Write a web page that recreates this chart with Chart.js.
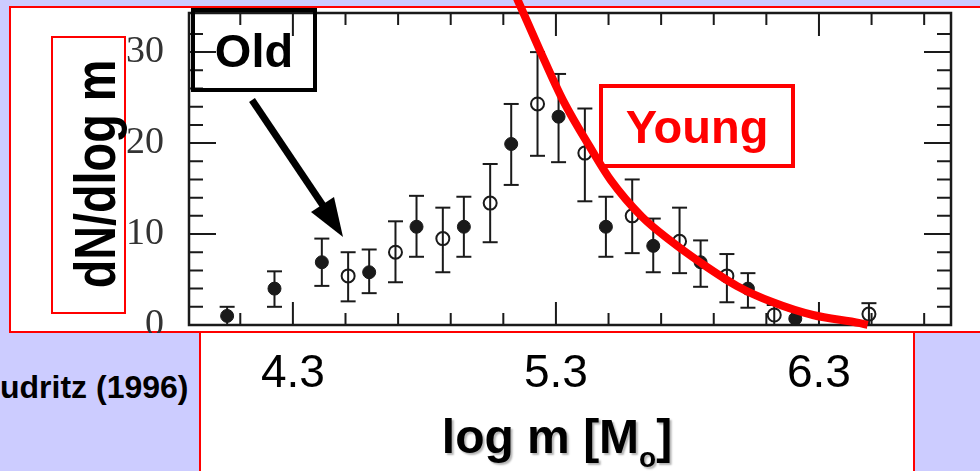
<!DOCTYPE html>
<html>
<head>
<meta charset="utf-8">
<script src="https://cdn.jsdelivr.net/npm/chart.js@4.4.1/dist/chart.umd.min.js"></script>
<style>
  html, body { margin: 0; padding: 0; }
  body {
    width: 980px; height: 471px; overflow: hidden; position: relative;
    background: #ccccff; font-family: "Liberation Sans", Arial, sans-serif;
  }
  .abs { position: absolute; box-sizing: border-box; }
  #topBox { left: 9px; top: 6px; width: 1000px; height: 327px; background: #fff; border: 2px solid #ff0000; z-index: 0; }
  #bottomBox { left: 199px; top: 331px; width: 716px; height: 160px; background: #fff; border: 2px solid #ff0000; z-index: 0; }
  #chart { position: absolute; left: 0; top: 0; z-index: 1; }
  #leftCover { left: 0; top: 333px; width: 199px; height: 138px; background: #ccccff; z-index: 2; }
  #cite { left: 0; top: 371px; width: 186px; text-align: right; font-weight: bold; font-size: 32px; line-height: 1; white-space: nowrap; z-index: 3; }
  #yBox { left: 51px; top: 36px; width: 75px; height: 278px; background: #fff; border: 2px solid #ff0000; z-index: 2; }
  #yTitle { left: 95px; top: 174px; font-weight: bold; font-size: 57px; line-height: 1; white-space: nowrap;
            transform: translate(-50%, -50%) rotate(-90deg) scaleX(0.82); z-index: 3; }
  #oldBox { left: 191px; top: 8px; width: 126px; height: 84px; border: 4px solid #000; z-index: 3;
            display: flex; align-items: center; justify-content: center; font-weight: bold; font-size: 47px; line-height: 1; }
  #youngBox { left: 599px; top: 84px; width: 196px; height: 84px; border: 4px solid #ff0000; z-index: 3; color: #ff0000;
              display: flex; align-items: center; justify-content: center; font-weight: bold; font-size: 47px; line-height: 1; }
  #xTitle { left: 557px; top: 413px; transform: translateX(-50%); font-weight: bold; font-size: 48px; line-height: 1;
            white-space: nowrap; z-index: 3; text-shadow: 2px 2px 2px rgba(0,0,0,0.3); }
  #xTitle span { font-size: 28px; position: relative; top: 14px; }
  #arrow { left: 0; top: 0; z-index: 3; }
</style>
</head>
<body>
<div id="topBox" class="abs"></div>
<div id="bottomBox" class="abs"></div>
<canvas id="chart" width="980" height="471"></canvas>
<div id="leftCover" class="abs"></div>
<div id="cite" class="abs">udritz (1996)</div>
<div id="yBox" class="abs"></div>
<div id="yTitle" class="abs">dN/dlog m</div>
<div id="oldBox" class="abs">Old</div>
<div id="youngBox" class="abs">Young</div>
<svg id="arrow" class="abs" width="980" height="471">
  <line x1="252" y1="100" x2="328" y2="213" stroke="#000" stroke-width="7"/>
  <polygon points="343,237 311,212 334,197" fill="#000"/>
</svg>
<div id="xTitle" class="abs">log m [M<span>o</span>]</div>

<script>
// filled circles (one sample)
const filledX  = [4.05, 4.23, 4.41, 4.59, 4.77, 4.95, 5.13, 5.31, 5.49, 5.67, 5.85, 6.03, 6.21];
const filledY  = [1.0, 4.0, 6.9, 5.8, 10.8, 10.8, 19.9, 22.9, 10.8, 8.7, 6.9, 4.0, 0.7];
const filledLo = [0, 2.0, 4.3, 3.5, 7.5, 7.5, 15.4, 17.9, 7.5, 5.8, 4.2, 1.9, 0];
const filledHi = [2.0, 5.9, 9.5, 8.3, 14.2, 14.1, 24.3, 27.6, 14.1, 11.7, 9.3, 5.7, 1.6];

// open circles (other sample)
const openX  = [4.51, 4.69, 4.87, 5.05, 5.23, 5.41, 5.59, 5.77, 5.95, 6.13, 6.49];
const openY  = [5.4, 8.0, 9.5, 13.4, 24.3, 18.9, 12.0, 9.2, 5.4, 1.1, 1.2];
const openLo = [2.6, 4.7, 5.8, 9.1, 18.6, 13.6, 7.9, 5.7, 2.5, 0, 0];
const openHi = [8.0, 11.4, 12.9, 17.7, 30.0, 23.8, 16.0, 12.9, 7.8, 2.2, 2.4];

// red "Young" curve
const curveX = [5.121, 5.155, 5.239, 5.327, 5.437, 5.509, 5.627, 5.734, 5.848, 5.988, 6.125, 6.277, 6.456, 6.485];
const curveY = [37.9, 35.7, 30.2, 24.7, 19.2, 15.9, 11.9, 9.3, 6.9, 4.3, 2.5, 1.1, 0.2, 0];

// axes
const xLabels = [4.3, 5.3, 6.3];
const xTicks = [4.1, 4.3, 4.5, 4.7, 4.9, 5.1, 5.3, 5.5, 5.7, 5.9, 6.1, 6.3, 6.5, 6.7];
const yLabels = [0, 10, 20, 30];
const yTicks = [2, 4, 6, 8, 10, 12, 14, 16, 18, 20, 22, 24, 26, 28, 30, 32];

const INK = "#1a1a1a";

function pts(xs, ys) {
    return xs.map((x, i) => ({ x: x, y: ys[i] }));
}

// vertical error bar stems, separated by gaps
const allX = filledX.concat(openX);
const allLo = filledLo.concat(openLo);
const allHi = filledHi.concat(openHi);
const stems = [];
allX.forEach((x, i) => {
    stems.push({ x: x, y: allLo[i] }, { x: x, y: allHi[i] }, { x: x, y: null });
});
const caps = [];
allX.forEach((x, i) => {
    caps.push({ x: x, y: allHi[i] });
    if (allLo[i] > 0) caps.push({ x: x, y: allLo[i] });
});

// no extra label padding, so the plot box lands where the scan has it
function noPad(s) {
    s.paddingTop = 0; s.paddingBottom = 0; s.paddingLeft = 0; s.paddingRight = 0;
}

// frame with inward ticks on all four sides
const framePlugin = {
    id: "frame",
    beforeDatasetsDraw(chart) {
        const { ctx, chartArea: a, scales: { x, y } } = chart;
        ctx.save();
        ctx.strokeStyle = INK;
        ctx.lineWidth = 2.5;
        ctx.strokeRect(a.left, a.top, a.right - a.left, a.bottom - a.top);
        ctx.lineWidth = 2;
        ctx.beginPath();
        xTicks.forEach(v => {
            const px = x.getPixelForValue(v);
            const len = xLabels.includes(v) ? 23 : 12;
            ctx.moveTo(px, a.top); ctx.lineTo(px, a.top + len);
            ctx.moveTo(px, a.bottom); ctx.lineTo(px, a.bottom - len);
        });
        yTicks.forEach(v => {
            const py = y.getPixelForValue(v);
            const len = yLabels.includes(v) ? 27 : 14;
            ctx.moveTo(a.left, py); ctx.lineTo(a.left + len, py);
            ctx.moveTo(a.right, py); ctx.lineTo(a.right - len, py);
        });
        ctx.stroke();
        ctx.restore();
    }
};

new Chart(document.getElementById("chart"), {
    type: "scatter",
    data: {
        datasets: [
            {
                type: "line",
                data: pts(curveX, curveY),
                borderColor: "#ff0000",
                borderWidth: 8,
                pointRadius: 0,
                cubicInterpolationMode: "monotone",
                clip: false
            },
            {
                data: pts(filledX, filledY),
                pointStyle: "circle",
                pointRadius: 6.5,
                backgroundColor: INK,
                borderColor: INK,
                borderWidth: 1
            },
            {
                data: pts(openX, openY),
                pointStyle: "circle",
                pointRadius: 6.5,
                backgroundColor: "rgba(0,0,0,0)",
                borderColor: INK,
                borderWidth: 2
            },
            {
                data: caps,
                pointStyle: "line",
                pointRadius: 7.5,
                borderColor: INK,
                borderWidth: 2
            },
            {
                type: "line",
                data: stems,
                borderColor: INK,
                borderWidth: 2,
                pointRadius: 0,
                spanGaps: false
            }
        ]
    },
    options: {
        responsive: false,
        animation: false,
        devicePixelRatio: 1,
        layout: { padding: { left: 0, right: 29, top: 13, bottom: 0 } },
        plugins: { legend: { display: false }, tooltip: { enabled: false } },
        scales: {
            x: {
                type: "linear",
                min: 3.905,
                max: 6.802,
                grid: { display: false, drawTicks: false },
                border: { display: false },
                afterBuildTicks: s => { s.ticks = xLabels.map(v => ({ value: v })); },
                afterFit: s => { s.height = 146; noPad(s); },
                ticks: {
                    padding: 26,
                    color: "#000",
                    maxRotation: 0,
                    autoSkip: false,
                    font: { family: "'Liberation Sans', Arial, sans-serif", size: 46, lineHeight: 1 },
                    callback: v => v.toFixed(1)
                }
            },
            y: {
                min: 0,
                max: 34.3,
                grid: { display: false, drawTicks: false },
                border: { display: false },
                afterBuildTicks: s => { s.ticks = yLabels.map(v => ({ value: v })); },
                afterFit: s => { s.width = 189; noPad(s); },
                ticks: {
                    padding: 25,
                    color: "#333",
                    font: { family: "'Liberation Serif', 'Times New Roman', serif", size: 38, lineHeight: 1 }
                }
            }
        }
    },
    plugins: [framePlugin]
});
</script>
</body>
</html>
